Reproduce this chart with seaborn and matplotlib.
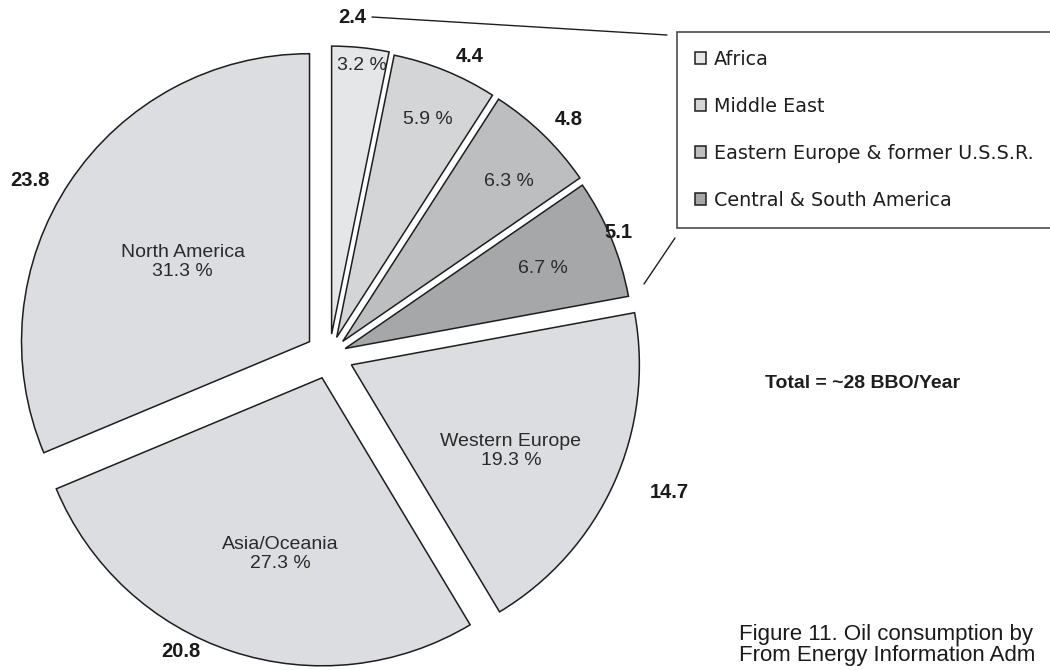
import numpy as np
import matplotlib
matplotlib.use("Agg")
import matplotlib.pyplot as plt
from matplotlib.lines import Line2D
import seaborn as sns

# ---------------- data ----------------
regions = ["Africa", "Middle East", "Eastern Europe & former U.S.S.R.",
           "Central & South America", "Western Europe", "Asia/Oceania",
           "North America"]
share_pct = [3.2, 5.9, 6.3, 6.7, 19.3, 27.3, 31.3]
consumption = [2.4, 4.4, 4.8, 5.1, 14.7, 20.8, 23.8]
inner_names = ["", "", "", "", "Western Europe", "Asia/Oceania", "North America"]
legend_regions = regions[:4]
total_note = "Total = ~28 BBO/Year"
caption_lines = ["Figure 11. Oil consumption by", "From Energy Information Adm"]

# ---------------- style ----------------
sns.set_theme(style="white")
plt.rcParams["font.family"] = ["Liberation Sans", "DejaVu Sans"]

colors = sns.color_palette(["#e5e6e8", "#d4d5d7", "#bdbec0", "#a6a7a9",
                            "#dcdde0", "#dcdde0", "#dcdde0"])
explode_px = [21, 19, 19, 17, 24, 24, 24]
pie_center = (329.5, 315.0)
pie_radius = 288.0
# label placement (radial fraction, angle offset in degrees)
inner_pos = [(0.94, -0.6), (0.82, -0.5), (0.80, -2.0), (0.74, -0.4),
             (0.63, -4.1), (0.63, 5.0), (0.52, 1.5)]
outer_pos = [(1.10, 2.1), (1.08, -3.2), (1.10, -1.5), (1.03, 0.6),
             (1.19, 2.4), (1.07, -9.1), (1.12, 3.7)]

W, H = 1050, 670
fig = plt.figure(figsize=(W / 100, H / 100), dpi=100)
ax = fig.add_axes([0, 0, 1, 1])

wedges, _ = ax.pie(share_pct, colors=colors, startangle=90, counterclock=False,
                   explode=explode_px, center=pie_center, radius=pie_radius,
                   wedgeprops=dict(edgecolor="#1e1e1e", linewidth=1.1),
                   frame=True)
ax.set_xlim(0, W)
ax.set_ylim(0, H)
ax.set_aspect("equal")
ax.axis("off")

for i, w in enumerate(wedges):
    cx, cy = w.center
    mid = 0.5 * (w.theta1 + w.theta2)
    # inner percentage label
    d, off = inner_pos[i]
    a = np.deg2rad(mid + off)
    txt = f"{share_pct[i]:.1f} %"
    if inner_names[i]:
        txt = inner_names[i] + "\n" + txt
    ax.text(cx + d * w.r * np.cos(a), cy + d * w.r * np.sin(a), txt,
            ha="center", va="center", fontsize=14, color="#2a2a2a",
            linespacing=1.15)
    # outer value label
    d, off = outer_pos[i]
    a = np.deg2rad(mid + off)
    ax.text(cx + d * w.r * np.cos(a), cy + d * w.r * np.sin(a),
            f"{consumption[i]:.1f}", ha="center", va="center",
            fontsize=14.5, fontweight="bold", color="#1a1a1a")

# legend (only the small slices); box runs past the right edge as in the source
leg = fig.legend(wedges[:4], legend_regions, loc="upper left", mode="expand",
                 bbox_to_anchor=(677 / W, 0, 0.5, 1 - 32 / H),
                 bbox_transform=fig.transFigure,
                 borderaxespad=0, frameon=True, fancybox=False, shadow=False,
                 prop=dict(family="DejaVu Sans", size=13.8),
                 handlelength=0.6, handleheight=0.6, handletextpad=0.4,
                 labelspacing=1.47, borderpad=0.92)
leg.get_frame().set_edgecolor("#1e1e1e")
leg.get_frame().set_linewidth(1.2)
leg.get_frame().set_boxstyle("square", pad=0)
for t in leg.get_texts():
    t.set_color("#1e1e1e")

# connector lines from small slices to legend
ax.add_line(Line2D([372, 667], [H - 17, H - 35], color="#1e1e1e", lw=1.0))
ax.add_line(Line2D([644, 675], [H - 284, H - 238], color="#1e1e1e", lw=1.0))

# total note
ax.text(765, H - 383, total_note, ha="left", va="center", fontsize=14,
        fontweight="bold", color="#1e1e1e")

# caption at the bottom right
ax.text(739, H - 624, "\n".join(caption_lines), ha="left", va="top",
        fontsize=16, color="#1a1a1a", linespacing=1.0)

fig.savefig("out.png", dpi=100, facecolor="white")
